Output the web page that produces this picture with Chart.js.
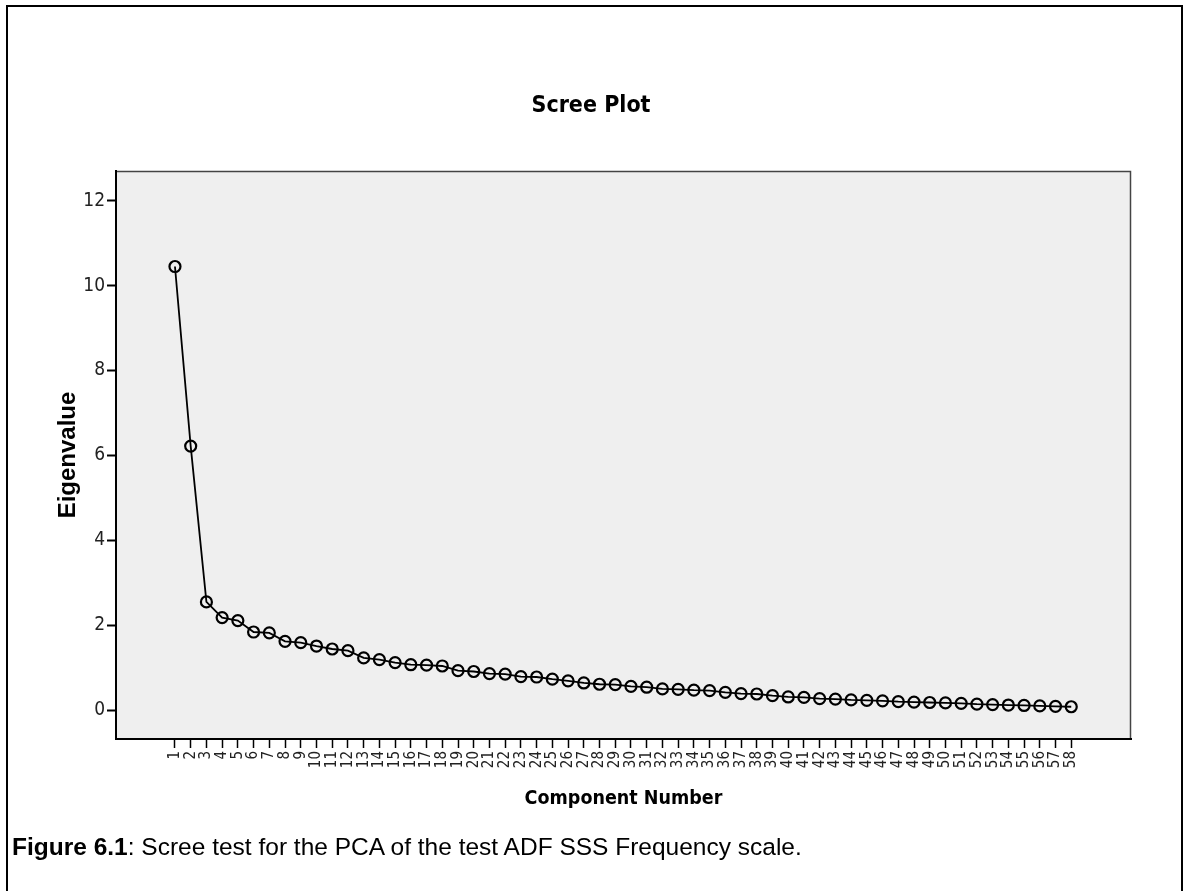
<!DOCTYPE html>
<html>
<head>
<meta charset="utf-8">
<script src="https://cdn.jsdelivr.net/npm/chart.js@4.4.1/dist/chart.umd.min.js"></script>
<style>
  html, body { margin: 0; padding: 0; background: #ffffff; }
  #wrap { position: relative; width: 1187px; height: 891px; overflow: hidden; }
  #frame { position: absolute; left: 6px; top: 5px; width: 1177px; height: 900px; border: 2px solid #000; box-sizing: border-box; pointer-events: none; }
  #c { position: absolute; left: 0; top: 0; }
  #caption { position: absolute; left: 12px; top: 833px; font-family: "Liberation Sans", Arial, sans-serif; font-size: 24.5px; color: #000; white-space: nowrap; }
</style>
</head>
<body>
<div id="wrap">
  <canvas id="c" width="1187" height="891"></canvas>
  <div id="frame"></div>
  <div id="caption"><b>Figure 6.1</b>: Scree test for the PCA of the test ADF SSS Frequency scale.</div>
</div>
<script>
const componentNumbers = [1,2,3,4,5,6,7,8,9,10,11,12,13,14,15,16,17,18,19,20,21,22,23,24,25,26,27,28,29,30,31,32,33,34,35,36,37,38,39,40,41,42,43,44,45,46,47,48,49,50,51,52,53,54,55,56,57,58];
const eigenvalues = [10.45,6.22,2.55,2.18,2.11,1.84,1.82,1.62,1.59,1.51,1.44,1.40,1.23,1.19,1.12,1.07,1.06,1.04,0.93,0.91,0.86,0.85,0.79,0.78,0.73,0.69,0.64,0.61,0.60,0.56,0.54,0.50,0.49,0.47,0.46,0.42,0.39,0.38,0.34,0.31,0.30,0.27,0.26,0.24,0.23,0.22,0.20,0.19,0.18,0.17,0.16,0.14,0.13,0.12,0.11,0.10,0.09,0.08];
const yTickValues = [0,2,4,6,8,10,12];
const xTickValues = componentNumbers;

const NARROW = '"Liberation Sans Narrow", "Arial Narrow", "DejaVu Sans Condensed", sans-serif';

const plotBg = {
  id: 'plotBg',
  beforeDraw(chart) {
    const {ctx, chartArea: a} = chart;
    ctx.save();
    ctx.fillStyle = '#efefef';
    ctx.fillRect(a.left, a.top, a.right - a.left, a.bottom - a.top);
    ctx.strokeStyle = '#444';
    ctx.lineWidth = 1.5;
    ctx.beginPath();
    ctx.moveTo(a.left, a.top + 0.5);
    ctx.lineTo(a.right - 0.5, a.top + 0.5);
    ctx.lineTo(a.right - 0.5, a.bottom);
    ctx.stroke();
    ctx.restore();
  }
};

new Chart(document.getElementById('c'), {
  type: 'line',
  data: {
    datasets: [{
      data: componentNumbers.map((x, i) => ({x: x, y: eigenvalues[i]})),
      borderColor: '#000',
      borderWidth: 1.8,
      pointRadius: 5.5,
      pointBorderWidth: 2.2,
      pointBorderColor: '#000',
      pointBackgroundColor: 'rgba(0,0,0,0)',
      tension: 0
    }]
  },
  options: {
    responsive: false,
    animation: false,
    events: [],
    layout: { padding: { left: 51, right: 56, top: 0, bottom: 79 } },
    plugins: {
      legend: { display: false },
      tooltip: { enabled: false },
      title: {
        display: true,
        text: 'Scree Plot',
        color: '#000',
        font: { family: NARROW, size: 23, weight: 'bold', lineHeight: 1.2 },
        padding: { top: 92.5, bottom: 50.9 }
      }
    },
    scales: {
      x: {
        type: 'linear',
        min: -2.75,
        max: 61.8,
        afterFit(s) { s.height = 73; },
        afterBuildTicks(s) { s.ticks = xTickValues.map(v => ({value: v})); },
        ticks: {
          autoSkip: false,
          maxRotation: 90,
          minRotation: 90,
          padding: 3,
          color: '#222',
          font: { family: NARROW, size: 15 }
        },
        grid: { display: true, drawOnChartArea: false, drawTicks: true, tickLength: 9, tickColor: '#000', tickWidth: 1.5 },
        border: { display: true, color: '#000', width: 2 },
        title: {
          display: true,
          text: 'Component Number',
          color: '#000',
          font: { family: NARROW, size: 19.5, weight: 'bold', lineHeight: 1.2 },
          padding: { top: 0, bottom: 1 }
        }
      },
      y: {
        type: 'linear',
        min: -0.68,
        max: 12.70,
        afterFit(s) { s.width = 65; },
        afterBuildTicks(s) { s.ticks = yTickValues.map(v => ({value: v})); },
        ticks: {
          padding: 2,
          color: '#222',
          font: { family: NARROW, size: 19 }
        },
        grid: { display: true, drawOnChartArea: false, drawTicks: true, tickLength: 9, tickColor: '#000', tickWidth: 2 },
        border: { display: true, color: '#000', width: 2 },
        title: {
          display: true,
          text: 'Eigenvalue',
          color: '#000',
          font: { family: '"Liberation Sans", Arial, sans-serif', size: 24, weight: 'bold', lineHeight: 1.2 },
          padding: { top: 2.6, bottom: 0 }
        }
      }
    }
  },
  plugins: [plotBg]
});
</script>
</body>
</html>
